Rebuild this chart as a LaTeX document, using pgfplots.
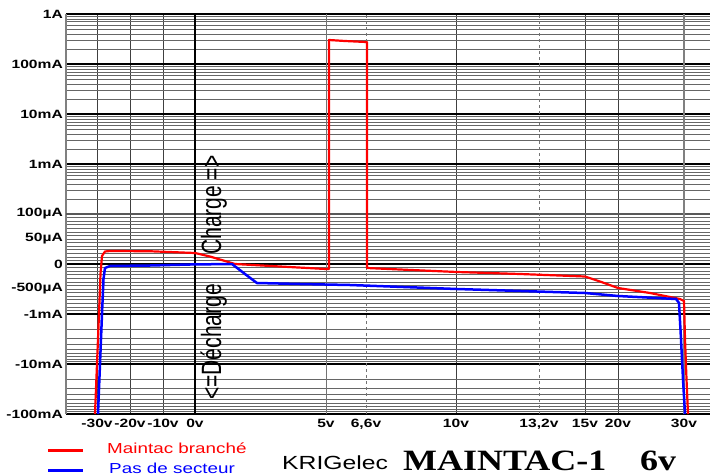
\documentclass[border=0pt]{standalone}
\usepackage{pgfplots}
\pgfplotsset{compat=1.18}
\usepackage{fontspec}
\usepackage{graphicx}
\setmainfont{Liberation Sans}[FakeStretch=1.3]
\newfontfamily\plainsans{Liberation Sans}
\newfontfamily\titleserif{Liberation Serif}[FakeStretch=1.22]
\definecolor{cred}{RGB}{255,0,0}
\definecolor{cblue}{RGB}{0,0,255}

% x in chart units (non linear voltage scale), y in "bands" (1 band = one decade / linear step)
\begin{document}
\begin{tikzpicture}
\useasboundingbox (0,0) rectangle (710pt,475pt);
\begin{axis}[
  at={(66pt,61pt)}, anchor=south west,
  scale only axis, width=644pt, height=400pt,
  xmin=66, xmax=710, ymin=-3, ymax=5,
  axis line style={draw=none},
  clip=false,
  major tick length=0pt, minor tick length=0pt,
  ticklabel style={font=\bfseries\fontsize{12}{12}\selectfont},
  xticklabel style={inner sep=0pt, yshift=-5pt},
  yticklabel style={inner sep=0pt, xshift=-3pt},
  xtick={97,130,163,456,585,618},
  xticklabels={-30v,-20v,-10v,10v,15v,20v},
  extra x ticks={195,326,366,539,684},
  extra x tick labels={0v,5v,{6,6v},{13,2v},30v},
  extra x tick style={grid=none},
  ytick={-3,-2,-1,0,2,3,4,5},
  yticklabels={-100mA,-10mA,-1mA,0,1mA,10mA,100mA,1A},
  extra y ticks={-0.5,0.5,1},
  extra y tick labels={-500µA,50µA,100µA},
  extra y tick style={grid=none},
  minor ytick={
    1.301,1.477,1.602,1.699,1.778,1.845,1.903,1.954,
    2.301,2.477,2.602,2.699,2.778,2.845,2.903,2.954,
    3.301,3.477,3.602,3.699,3.778,3.845,3.903,3.954,
    4.301,4.477,4.602,4.699,4.778,4.845,4.903,4.954,
    0.071,0.143,0.214,0.286,0.357,0.429,0.5,0.571,0.643,0.714,0.786,0.857,0.929,
    -0.071,-0.143,-0.214,-0.286,-0.357,-0.429,-0.5,-0.571,-0.643,-0.714,-0.786,-0.857,-0.929,
    -1.301,-1.477,-1.602,-1.699,-1.778,-1.845,-1.903,-1.954,
    -2.301,-2.477,-2.602,-2.699,-2.778,-2.845,-2.903,-2.954},
  xmajorgrids=true, ymajorgrids=true, yminorgrids=true,
  major x grid style={black!75, line width=0.8pt},
  major y grid style={black, line width=1.8pt},
  minor y grid style={black!60, line width=0.5pt},
]
% special grid lines
\draw[gray, line width=2pt] (axis cs:66,-3) -- (axis cs:66,5);
\draw[black!65, line width=2pt] (axis cs:66,1) -- (axis cs:710,1);
\draw[black, line width=2.5pt] (axis cs:195,-3) -- (axis cs:195,5);
\draw[black!55, line width=1pt] (axis cs:326,-3) -- (axis cs:326,5);
\draw[black!55, line width=1pt, dashed] (axis cs:366,-3) -- (axis cs:366,5);
\draw[black!55, line width=1pt, dashed] (axis cs:539,-3) -- (axis cs:539,5);
\draw[black!50, line width=1.5pt] (axis cs:684,-3) -- (axis cs:684,5);

% Maintac branche
\addplot[color=cred, line width=2.2pt, line join=round] coordinates {
(95,-3)(97,-2)(99,-1)(100.5,-0.2)(102,0.16)(105,0.25)(110,0.26)(150,0.255)
(195,0.22)(210,0.15)(235,0.0)(280,-0.05)(326,-0.1)(329,-0.1)(329,4.48)
(345,4.46)(366,4.44)(367,4.44)(367,-0.08)(400,-0.11)(457,-0.16)(520,-0.2)
(585,-0.25)(600,-0.35)(618,-0.48)(650,-0.58)(680,-0.7)(684,-0.74)(685,-1.5)
(686.5,-2.3)(688,-3)
};
% Pas de secteur
\addplot[color=cblue, line width=2.5pt, line join=round] coordinates {
(98,-3)(100,-2)(102,-1)(103.5,-0.3)(105,-0.08)(110,-0.04)(150,-0.03)
(190,-0.01)(232,0.0)(245,-0.2)(257,-0.38)(300,-0.4)(350,-0.42)(457,-0.5)
(585,-0.58)(618,-0.64)(676,-0.7)(679,-0.78)(681,-1.5)(683,-2.3)(685,-3)
};
\end{axis}

\node[rotate=90, anchor=base west, inner sep=0pt] at (221pt,75pt)
  {\scalebox{1}[1.33]{\plainsans\fontsize{21}{21}\selectfont <=Décharge}};
\node[rotate=90, anchor=base west, inner sep=0pt] at (221pt,220pt)
  {\scalebox{1}[1.33]{\plainsans\fontsize{21}{21}\selectfont Charge =>}};

% legend
\draw[cred, line width=3pt] (48pt,25pt) -- (83pt,25pt);
\draw[cblue, line width=3pt] (48pt,5pt) -- (83pt,5pt);
\node[anchor=base west, inner sep=0pt, text=cred, font=\fontsize{14.5}{14.5}\selectfont] at (107pt,22pt) {Maintac branché};
\node[anchor=base west, inner sep=0pt, text=cblue, font=\fontsize{14.5}{14.5}\selectfont] at (109pt,2pt) {Pas de secteur};

\node[anchor=base west, inner sep=0pt, font=\fontsize{19}{19}\selectfont] at (282pt,6pt) {KRIGelec};
\node[anchor=base west, inner sep=0pt, font=\titleserif\bfseries\fontsize{29.5}{29.5}\selectfont] at (403pt,5pt) {MAINTAC-1};
\node[anchor=base west, inner sep=0pt, font=\titleserif\bfseries\fontsize{29.5}{29.5}\selectfont] at (640pt,5pt) {6v};
\end{tikzpicture}
\end{document}
